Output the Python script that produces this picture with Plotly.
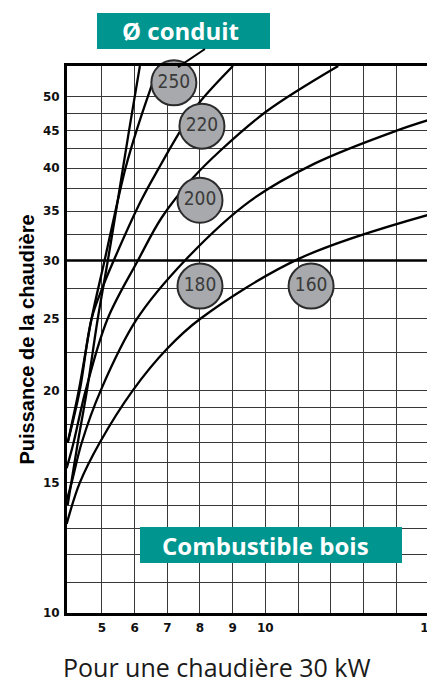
import plotly.graph_objects as go

# ---------------- data ----------------
x_range = [3.93, 15.07]
x_ticks = [5, 6, 7, 8, 9, 10, 11, 12, 13, 14, 15]
x_tick_text = ['5', '6', '7', '8', '9', '10', '', '', '', '', '15']
y_ticks = [10, 11, 12, 13, 14, 15, 16, 17, 18, 19, 20, 22.5, 25, 27.5, 30,
           32.5, 35, 37.5, 40, 42.5, 45, 47.5, 50]
y_tick_text = ['10', '', '', '', '', '15', '', '', '', '', '20', '', '25', '',
               '30', '', '35', '', '40', '', '45', '', '50']

boiler_kw = 30

# steep unlabeled curve
a_x = [3.95, 4.06, 4.26, 4.54, 4.87, 5.18, 5.48, 5.83, 6.16]
a_y = [14.0, 15, 17, 20, 25, 30, 36.1, 45, 55]
# Ø 250
b_x = [3.95, 4.29, 4.68, 5.08, 5.48, 5.72, 6.06, 6.43, 6.74]
b_y = [17, 20, 25, 30, 36.1, 40, 45, 50.4, 55]
# Ø 220
c_x = [3.95, 4.32, 4.68, 5.02, 5.36, 6.19, 6.74, 7.41, 7.97, 9.01]
c_y = [17, 20, 25, 27.6, 30, 36.1, 40, 45, 49.0, 55]
# Ø 200
d_x = [3.92, 4.13, 4.50, 5.17, 6.10, 6.83, 7.76, 8.61, 10.05, 12.23]
d_y = [15.7, 17, 20, 25, 30, 34.3, 38.7, 42.2, 47.8, 55]
# Ø 180
e_x = [3.92, 4.07, 4.38, 4.96, 6.07, 7.54, 9.53, 11.52, 14.04, 15.15]
e_y = [14.2, 15, 17, 20, 25, 30, 36.1, 40.6, 45, 46.7]
# Ø 160
f_x = [3.92, 4.32, 4.93, 5.94, 7.0, 8.0, 11.05, 15.1]
f_y = [13.2, 15, 17, 20, 22.8, 25, 30.2, 34.7]

label_names = ['250', '220', '200', '180', '160']
label_x = [7.2, 8.06, 8.0, 8.0, 11.4]
label_y = [52.2, 45.6, 36.2, 27.7, 27.7]

# ---------------- figure ----------------
TEAL = '#00968f'
GRID = '#383838'
fig = go.Figure()

for xs, ys in [(a_x, a_y), (b_x, b_y), (c_x, c_y), (d_x, d_y), (e_x, e_y), (f_x, f_y)]:
    fig.add_trace(go.Scatter(x=xs, y=ys, mode='lines',
                             line=dict(color='black', width=2.3, shape='spline', smoothing=1.0),
                             hoverinfo='skip', showlegend=False))

fig.add_trace(go.Scatter(x=x_range, y=[boiler_kw, boiler_kw], mode='lines',
                         line=dict(color='black', width=2.6),
                         hoverinfo='skip', showlegend=False))

fig.add_trace(go.Scatter(x=label_x, y=label_y, mode='markers+text', text=label_names,
                         textposition='middle center', cliponaxis=False,
                         marker=dict(size=45, color='#a7a9ac', line=dict(color='#2b2b2b', width=2)),
                         textfont=dict(family='DejaVu Sans Condensed, Liberation Sans Narrow, Roboto, sans-serif',
                                       size=19, color='#3a3a3a'),
                         hoverinfo='skip', showlegend=False))

fig.update_layout(
    width=427, height=672,
    margin=dict(l=59, r=4, t=58, b=67),
    paper_bgcolor='white', plot_bgcolor='white',
    font=dict(family='Liberation Sans, Arial, sans-serif', color='black'),
    xaxis=dict(range=x_range, tickvals=x_ticks, ticktext=x_tick_text, automargin=False,
               ticklabeloverflow='allow',
               showgrid=True, gridcolor=GRID, gridwidth=1.2, zeroline=False,
               showline=True, linecolor='black', linewidth=3, mirror=True,
               ticks='outside', ticklen=2, tickcolor='rgba(0,0,0,0)',
               tickfont=dict(family='DejaVu Sans, sans-serif', size=12, weight='bold', color='#111')),
    yaxis=dict(type='log', range=[1, 1.740363], tickvals=y_ticks, ticktext=y_tick_text, automargin=False,
               showgrid=True, gridcolor=GRID, gridwidth=1.2, zeroline=False,
               showline=True, linecolor='black', linewidth=3, mirror=True,
               ticks='outside', ticklen=2, tickcolor='rgba(0,0,0,0)',
               tickfont=dict(family='DejaVu Sans, sans-serif', size=12, weight='bold', color='#111')),
    shapes=[
        dict(type='rect', xref='paper', yref='paper', x0=0.0824, x1=0.5577, y0=1.031, y1=1.097,
             fillcolor=TEAL, line=dict(width=0), layer='above'),
        dict(type='rect', xref='paper', yref='paper', x0=0.2005, x1=0.9203, y0=0.0914, y1=0.1572,
             fillcolor=TEAL, line=dict(width=0), layer='above'),
        dict(type='line', xref='paper', yref='paper', x0=0.305, y0=0.998, x1=0.379, y1=1.031,
             line=dict(color='black', width=2), layer='above'),
    ],
    annotations=[
        dict(text='<b>Ø conduit</b>', xref='paper', yref='paper', x=0.313, y=1.064,
             xanchor='center', yanchor='middle', showarrow=False,
             font=dict(family='Open Sans, Noto Sans, sans-serif', size=24, color='white')),
        dict(text='<b>Combustible bois</b>', xref='paper', yref='paper', x=0.544, y=0.1243,
             xanchor='center', yanchor='middle', showarrow=False,
             font=dict(family='Open Sans, Noto Sans, sans-serif', size=24, color='white')),
        dict(text='<b>Puissance de la chaudière</b>', xref='paper', yref='paper', x=-0.1085, y=0.499,
             xanchor='center', yanchor='middle', textangle=-90, showarrow=False,
             font=dict(family='Liberation Sans, Arial, sans-serif', size=20, color='black')),
        dict(text='Pour une chaudière 30 kW', xref='paper', yref='paper', x=0.412, y=-0.098,
             xanchor='center', yanchor='middle', showarrow=False,
             font=dict(family='Open Sans, Noto Sans, sans-serif', size=25, color='#1a1a1a')),
    ],
)

fig.write_html('out.html')
